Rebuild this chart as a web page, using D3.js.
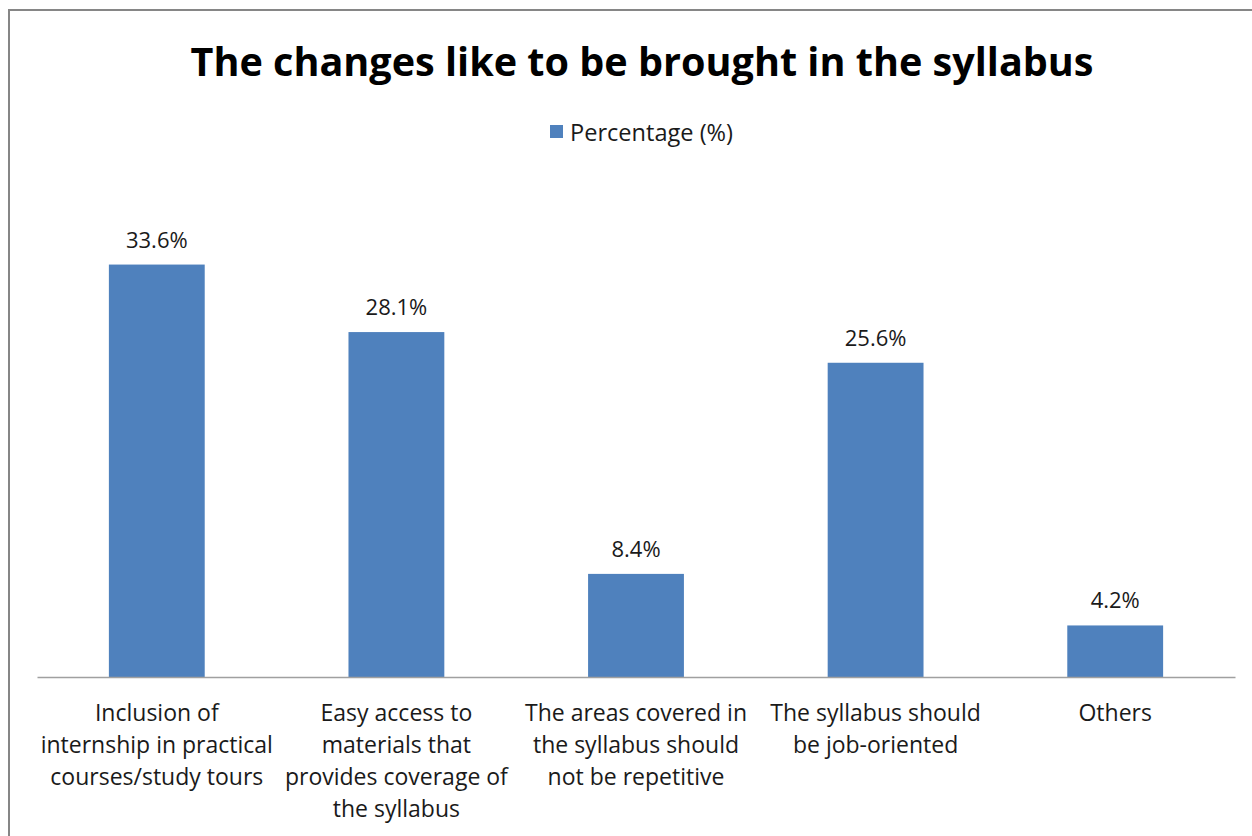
<!DOCTYPE html>
<html><head><meta charset="utf-8">
<script src="https://cdn.jsdelivr.net/npm/d3@7"></script>
<style>body{margin:0;background:#fff}svg{display:block}</style>
</head><body>
<script>
const categories = [
  ["Inclusion of","internship in practical","courses/study tours"],
  ["Easy access to","materials that","provides coverage of","the syllabus"],
  ["The areas covered in","the syllabus should","not be repetitive"],
  ["The syllabus should","be job-oriented"],
  ["Others"]
];
const values = [33.6, 28.1, 8.4, 25.6, 4.2];
const valueLabels = ["33.6%","28.1%","8.4%","25.6%","4.2%"];
const seriesName = "Percentage (%)";
const title = "The changes like to be brought in the syllabus";

const W = 1252, H = 836;
const svg = d3.select("body").append("svg").attr("width", W).attr("height", H);
const font = "'Open Sans', 'Noto Sans', sans-serif";

svg.append("rect").attr("x", 9).attr("y", 10).attr("width", W + 10).attr("height", H + 10)
  .attr("fill", "#fff").attr("stroke", "#868686").attr("stroke-width", 2);

svg.append("text").attr("x", 642).attr("y", 76).attr("text-anchor", "middle")
  .attr("font-family", font).attr("font-weight", "bold").attr("font-size", 39)
  .attr("textLength", 903).attr("lengthAdjust", "spacingAndGlyphs")
  .attr("fill", "#000").text(title);

const x = d3.scaleBand().domain(d3.range(values.length)).range([37, 1235]).paddingInner(0.6).paddingOuter(0.3);
const y = d3.scaleLinear().domain([0, 40]).range([677, 186]);

// legend
svg.append("rect").attr("x", 550).attr("y", 125).attr("width", 13).attr("height", 13).attr("fill", "#4F81BD");
svg.append("text").attr("x", 570).attr("y", 141).attr("font-family", font).attr("font-size", 23)
  .attr("textLength", 163).attr("lengthAdjust", "spacingAndGlyphs")
  .attr("fill", "#1a1a1a").text(seriesName);

svg.selectAll("rect.bar").data(values).enter().append("rect").attr("class", "bar")
  .attr("x", (d, i) => x(i)).attr("width", x.bandwidth())
  .attr("y", d => y(d)).attr("height", d => y(0) - y(d)).attr("fill", "#4F81BD");

svg.selectAll("text.val").data(values).enter().append("text").attr("class", "val")
  .attr("x", (d, i) => x(i) + x.bandwidth() / 2).attr("y", d => y(d) - 17)
  .attr("text-anchor", "middle").attr("font-family", font).attr("font-size", 22)
  .attr("fill", "#1a1a1a").text((d, i) => valueLabels[i]);

const axis = d3.axisBottom(x).tickSize(0).tickFormat("");
const ag = svg.append("g").attr("transform", `translate(0,${y(0)})`).call(axis);
ag.select(".domain").attr("stroke", "#a0a0a0").attr("stroke-width", 1.5);

categories.forEach((lines, i) => {
  const t = svg.append("text").attr("text-anchor", "middle").attr("font-family", font)
    .attr("font-size", 23).attr("fill", "#1a1a1a");
  lines.forEach((l, j) => {
    t.append("tspan").attr("x", x(i) + x.bandwidth() / 2).attr("y", 721 + j * 32).text(l);
  });
});
</script>
</body></html>
